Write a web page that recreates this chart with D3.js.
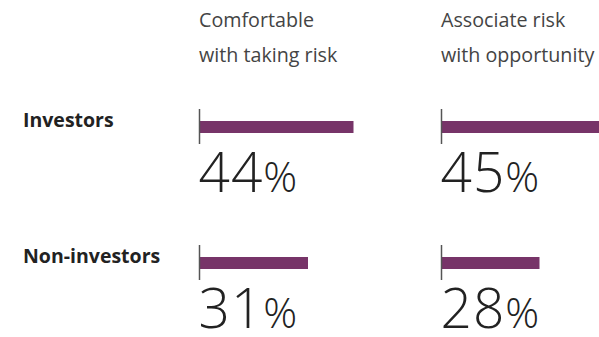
<!DOCTYPE html>
<html><head><meta charset="utf-8">
<script src="https://cdn.jsdelivr.net/npm/d3@7"></script>
<style>html,body{margin:0;padding:0;background:#fff;}</style>
</head><body>
<svg id="chart" width="599" height="337"></svg>
<script>
const groups = ["Investors", "Non-investors"];
const questions = [["Comfortable", "with taking risk"], ["Associate risk", "with opportunity"]];
const comfortable = [44, 31];
const associate = [45, 28];
const series = [comfortable, associate];

const svg = d3.select("#chart");
const colX = d3.scalePoint().domain([0, 1]).range([199.5, 441.5]);
const rowY = d3.scalePoint().domain(groups).range([127, 263]);
const w = d3.scaleLinear().domain([0, 100]).range([0, 350]);
const barH = 12;
const font = "'Open Sans', sans-serif";

// headers
questions.forEach((lines, i) => {
  const t = svg.append("text").attr("x", colX(i) - 0.5).attr("y", 27)
    .attr("font-family", font).attr("font-size", 19.7).attr("fill", "#444");
  lines.forEach((l, j) => t.append("tspan").attr("x", colX(i) - 0.5).attr("dy", j ? 35 : 0).text(l));
});

// row labels
groups.forEach(g => {
  svg.append("text").attr("x", 23).attr("y", rowY(g))
    .attr("font-family", font).attr("font-weight", 700).attr("font-size", 19.5)
    .attr("fill", "#222").text(g);
});

series.forEach((vals, i) => {
  groups.forEach((g, k) => {
    const x0 = colX(i);
    const yc = rowY(g);
    svg.append("rect").attr("x", x0).attr("y", yc - barH / 2)
      .attr("width", w(vals[k])).attr("height", barH).attr("fill", "#773468");
    svg.append("line").attr("x1", x0).attr("x2", x0)
      .attr("y1", yc - 18).attr("y2", yc + 17)
      .attr("stroke", "#555").attr("stroke-width", 1.5);
    const t = svg.append("text").attr("x", x0 - 1).attr("y", yc + 64.5)
      .attr("font-family", font).attr("font-weight", 300).attr("fill", "#222");
    t.append("tspan").attr("font-size", 55).attr("letter-spacing", 1).text(vals[k]);
    t.append("tspan").attr("font-size", 42).text("%");
  });
});
</script>
</body></html>
